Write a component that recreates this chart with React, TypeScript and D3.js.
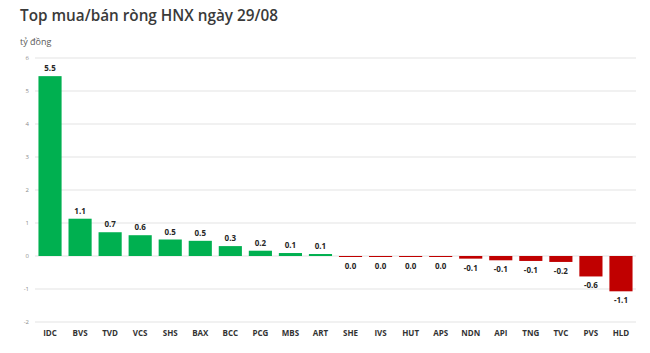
import React from "react";
import * as d3 from "d3";

const categories = ["IDC","BVS","TVD","VCS","SHS","BAX","BCC","PCG","MBS","ART","SHE","IVS","HUT","APS","NDN","API","TNG","TVC","PVS","HLD"];
const values = [5.45,1.13,0.72,0.63,0.5,0.46,0.3,0.16,0.09,0.06,-0.03,-0.03,-0.03,-0.03,-0.08,-0.13,-0.15,-0.18,-0.62,-1.07];
const yTicks = [-2,-1,0,1,2,3,4,5,6];

const W = 650, H = 353;
const left = 35, right = 636, top = 58, bottom = 322;

function fmt(v: number) {
  const s = v.toFixed(1);
  return s === "-0.0" ? "0.0" : s;
}

export default function App() {
  const x = d3.scaleBand<string>().domain(categories).range([left, right]).paddingInner(0.23).paddingOuter(0.115);
  const y = d3.scaleLinear().domain([-2, 6]).range([bottom, top]);
  const font = "'Open Sans', 'Noto Sans', sans-serif";
  return (
    <svg width={W} height={H} style={{ position: "absolute", left: 0, top: 0, background: "#fff" }}>
      <text x={20} y={21} fontFamily={font} fontSize={15.3} fontWeight={600} fill="#3a3a3a">Top mua/bán ròng HNX ngày 29/08</text>
      <text x={20} y={45} fontFamily={font} fontSize={9} fill="#595959">tỷ đồng</text>
      {yTicks.map(t => (
        <g key={t}>
          <line x1={left} x2={right} y1={y(t)} y2={y(t)} stroke="#e3e3e3" strokeWidth={1} />
          <text x={29} y={y(t) + 2} textAnchor="end" fontFamily={font} fontSize={6} fill="#8c8c8c">{t}</text>
        </g>
      ))}
      {categories.map((c, i) => {
        const v = values[i];
        const x0 = x(c)!;
        const bw = x.bandwidth();
        const y0 = y(Math.max(0, v));
        const h = Math.abs(y(v) - y(0));
        const cx = x0 + bw / 2;
        return (
          <g key={c}>
            <rect x={x0} y={y0} width={bw} height={Math.max(h, 1)} fill={v >= 0 ? "#00B050" : "#C00000"} />
            <text x={cx} y={v >= 0 ? y(v) - 5 : y(v) + 12} textAnchor="middle" fontFamily={font} fontSize={8} fontWeight={700} fill="#262626">{fmt(v)}</text>
            <text x={cx} y={336} textAnchor="middle" fontFamily={font} fontSize={8} fontWeight={700} fill="#333">{c}</text>
          </g>
        );
      })}
    </svg>
  );
}
